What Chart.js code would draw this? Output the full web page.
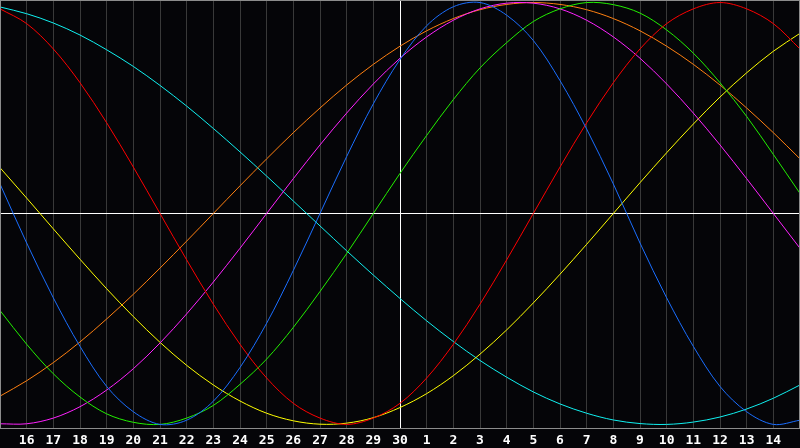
<!DOCTYPE html>
<html>
<head>
<meta charset="utf-8">
<script src="https://cdn.jsdelivr.net/npm/chart.js@4/dist/chart.umd.min.js"></script>
<style>
html,body{margin:0;padding:0;background:#050508;}
#wrap{width:800px;height:448px;position:relative;}
</style>
</head>
<body>
<div id="wrap"><canvas id="c" width="800" height="448"></canvas></div>
<script>
// Day labels along the bottom (left edge = 15th, centre = 30th, right edge = 15th)
const days = ['15','16','17','18','19','20','21','22','23','24','25','26','27','28','29','30',
              '1','2','3','4','5','6','7','8','9','10','11','12','13','14','15'];

// Biorhythm cycles, percent (-100..100), one value per day
const physical     = [14,-14,-40,-63,-82,-94,-100,-98,-89,-73,-52,-27,0,27,52,73,89,98,100,94,82,63,40,14,-14,-40,-63,-82,-94,-100,-98];
const emotional    = [97,90,78,62,43,22,0,-22,-43,-62,-78,-90,-97,-100,-97,-90,-78,-62,-43,-22,0,22,43,62,78,90,97,100,97,90,78];
const intellectual = [-46,-62,-76,-87,-95,-99,-100,-97,-91,-81,-69,-54,-37,-19,0,19,37,54,69,81,91,97,100,99,95,87,76,62,46,28,9.5];
const intuitive    = [-99.7,-99.7,-97,-91.6,-83.7,-73.6,-61.4,-47.6,-32.5,-16.5,0,16.5,32.5,47.6,61.4,73.6,83.7,91.6,97,99.7,99.7,97,91.6,83.7,73.6,61.4,47.6,32.5,16.5,0,-16.5];
const aesthetic    = [21.7,7.3,-7.3,-21.7,-35.7,-48.9,-61.1,-72,-81.3,-88.9,-94.7,-98.3,-99.9,-99.4,-96.8,-92,-85.4,-76.9,-66.7,-55.2,-42.4,-28.8,-14.6,0,14.6,28.8,42.4,55.2,66.7,76.9,85.4];
const awareness    = [-86.6,-79.3,-70.7,-60.9,-50,-38.3,-25.9,-13.1,0,13.1,25.9,38.3,50,60.9,70.7,79.3,86.6,92.4,96.6,99.1,100,99.1,96.6,92.4,86.6,79.3,70.7,60.9,50,38.3,25.9];
const spiritual    = [97.9,94.7,90.3,84.6,77.6,69.7,60.7,50.9,40.3,29.2,17.7,5.9,-5.9,-17.7,-29.2,-40.3,-50.9,-60.7,-69.7,-77.6,-84.6,-90.3,-94.7,-97.9,-99.6,-100,-98.9,-96.5,-92.7,-87.6,-81.3];

const seriesNames  = ['Physical','Emotional','Intellectual','Intuitive','Aesthetic','Awareness','Spiritual'];
const seriesData   = [physical, emotional, intellectual, intuitive, aesthetic, awareness, spiritual];
const seriesColors = ['#1a6eff','#ff0000','#22f000','#ff22ff','#ffff00','#ff8010','#10f0f0'];

const borderPlugin = {
  id: 'plotBorder',
  afterDraw(chart) {
    const a = chart.chartArea, ctx = chart.ctx;
    ctx.save();
    ctx.strokeStyle = '#8c8c8c';
    ctx.lineWidth = 1;
    ctx.strokeRect(a.left + 0.5, a.top + 0.5, a.right - a.left - 1, a.bottom - a.top);
    ctx.restore();
  }
};
const bgPlugin = {
  id: 'bg',
  beforeDraw(chart) {
    const ctx = chart.ctx;
    ctx.save();
    ctx.fillStyle = '#050508';
    ctx.fillRect(0, 0, chart.width, chart.height);
    ctx.restore();
  }
};

new Chart(document.getElementById('c'), {
  type: 'line',
  data: {
    labels: days,
    datasets: seriesData.map((d, i) => ({
      label: seriesNames[i],
      data: d,
      borderColor: seriesColors[i],
      borderWidth: 1,
      pointRadius: 0,
      tension: 0.33,
      fill: false
    }))
  },
  options: {
    responsive: false,
    animation: false,
    devicePixelRatio: 1,
    layout: { padding: 0 },
    plugins: { legend: { display: false }, tooltip: { enabled: false } },
    scales: {
      x: {
        type: 'category',
        offset: false,
        border: { display: false },
        grid: {
          drawTicks: false,
          lineWidth: 1,
          color: (c) => {
            const i = c.index;
            if (i === 0 || i === days.length - 1) return 'rgba(0,0,0,0)';
            return i === 15 ? '#ffffff' : '#393939';
          }
        },
        ticks: {
          autoSkip: false,
          maxRotation: 0,
          padding: 5,
          color: '#ffffff',
          font: { family: 'DejaVu Sans Mono', size: 13, weight: 'bold' },
          callback: (v, i) => (i === 0 || i === days.length - 1) ? '' : days[i]
        },
        afterFit: (s) => { s.height = 20; s.paddingLeft = 0; s.paddingRight = 0; }
      },
      y: {
        min: -101.7,
        max: 101.2,
        border: { display: false },
        ticks: { display: false },
        grid: { drawTicks: false, color: '#ffffff', lineWidth: 1 },
        afterBuildTicks: (s) => { s.ticks = [{ value: 0 }]; },
        afterFit: (s) => { s.width = 0; s.paddingTop = 0; s.paddingBottom = 0; }
      }
    }
  },
  plugins: [bgPlugin, borderPlugin]
});
</script>
</body>
</html>
